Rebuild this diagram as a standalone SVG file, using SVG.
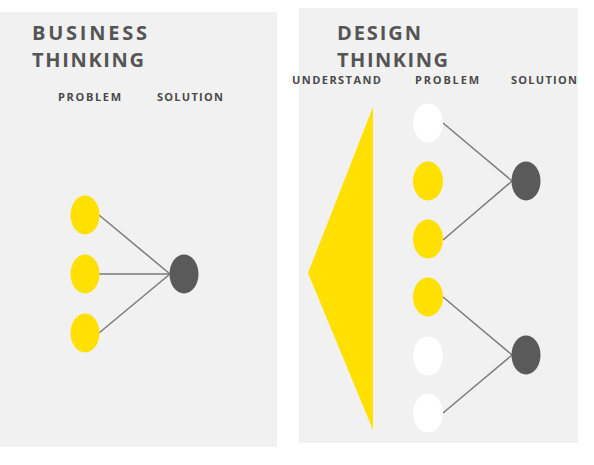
<svg xmlns="http://www.w3.org/2000/svg" width="594" height="465" viewBox="0 0 594 465">
  <style>
    .panel { fill: #f1f1f1; }
    .title { font-family: "Open Sans", "Liberation Sans", sans-serif; font-weight: 700; font-size: 20px; fill: #555555; }
    .label { font-family: "Open Sans", "Liberation Sans", sans-serif; font-weight: 700; font-size: 11px; fill: #4a4a4a; }
    .yellow { fill: #ffe000; }
    .white { fill: #ffffff; }
    .dark { fill: #5a5a5a; }
    .link { stroke: #7a7a7a; stroke-width: 1.5; fill: none; }
  </style>

  <!-- Panels -->
  <rect class="panel" x="0" y="12" width="277" height="435"/>
  <rect class="panel" x="299" y="8" width="279" height="435"/>

  <!-- Business thinking -->
  <g id="business-title">
    <text class="title" x="32" y="40" textLength="115" lengthAdjust="spacing">BUSINESS</text>
    <text class="title" x="32" y="67" textLength="112" lengthAdjust="spacing">THINKING</text>
  </g>
  <text class="label" x="58" y="101" textLength="63" lengthAdjust="spacing">PROBLEM</text>
  <text class="label" x="157" y="101" textLength="66" lengthAdjust="spacing">SOLUTION</text>

  <!-- Design thinking -->
  <g id="design-title">
    <text class="title" x="337" y="40" textLength="84" lengthAdjust="spacing">DESIGN</text>
    <text class="title" x="337" y="67" textLength="111" lengthAdjust="spacing">THINKING</text>
  </g>
  <text class="label" x="292" y="84" textLength="89" lengthAdjust="spacing">UNDERSTAND</text>
  <text class="label" x="415" y="84" textLength="64" lengthAdjust="spacing">PROBLEM</text>
  <text class="label" x="511" y="84" textLength="66" lengthAdjust="spacing">SOLUTION</text>

  <!-- Connectors -->
  <g id="connectors">
    <line class="link" x1="99" y1="215" x2="170" y2="274"/>
    <line class="link" x1="99" y1="274" x2="170" y2="274"/>
    <line class="link" x1="99" y1="333" x2="170" y2="274"/>
    <line class="link" x1="443" y1="123" x2="512" y2="181"/>
    <line class="link" x1="443" y1="240" x2="512" y2="181"/>
    <line class="link" x1="443" y1="297" x2="512" y2="355"/>
    <line class="link" x1="443" y1="413" x2="512" y2="355"/>
  </g>

  <!-- Business nodes -->
  <g id="bp1"><ellipse class="yellow" cx="85" cy="215" rx="14.5" ry="19.5"/></g>
  <g id="bp2"><ellipse class="yellow" cx="85" cy="274" rx="14.5" ry="19.5"/></g>
  <g id="bp3"><ellipse class="yellow" cx="85" cy="333" rx="14.5" ry="19.5"/></g>
  <g id="bs1"><ellipse class="dark" cx="184" cy="274" rx="14.5" ry="19.5"/></g>

  <!-- Understand wedge -->
  <g id="understand"><polygon class="yellow" points="373,107 373,430 308,273"/></g>

  <!-- Design nodes -->
  <g id="dp1"><ellipse class="white" cx="428" cy="123" rx="15" ry="19.5"/></g>
  <g id="dp2"><ellipse class="yellow" cx="428" cy="181" rx="15" ry="19.5"/></g>
  <g id="dp3"><ellipse class="yellow" cx="428" cy="239" rx="15" ry="19.5"/></g>
  <g id="dp4"><ellipse class="yellow" cx="428" cy="297" rx="15" ry="19.5"/></g>
  <g id="dp5"><ellipse class="white" cx="428" cy="356" rx="15" ry="19.5"/></g>
  <g id="dp6"><ellipse class="white" cx="428" cy="413" rx="15" ry="19.5"/></g>
  <g id="ds1"><ellipse class="dark" cx="526" cy="181" rx="14.5" ry="19.5"/></g>
  <g id="ds2"><ellipse class="dark" cx="526" cy="355" rx="14.5" ry="19.5"/></g>
</svg>
